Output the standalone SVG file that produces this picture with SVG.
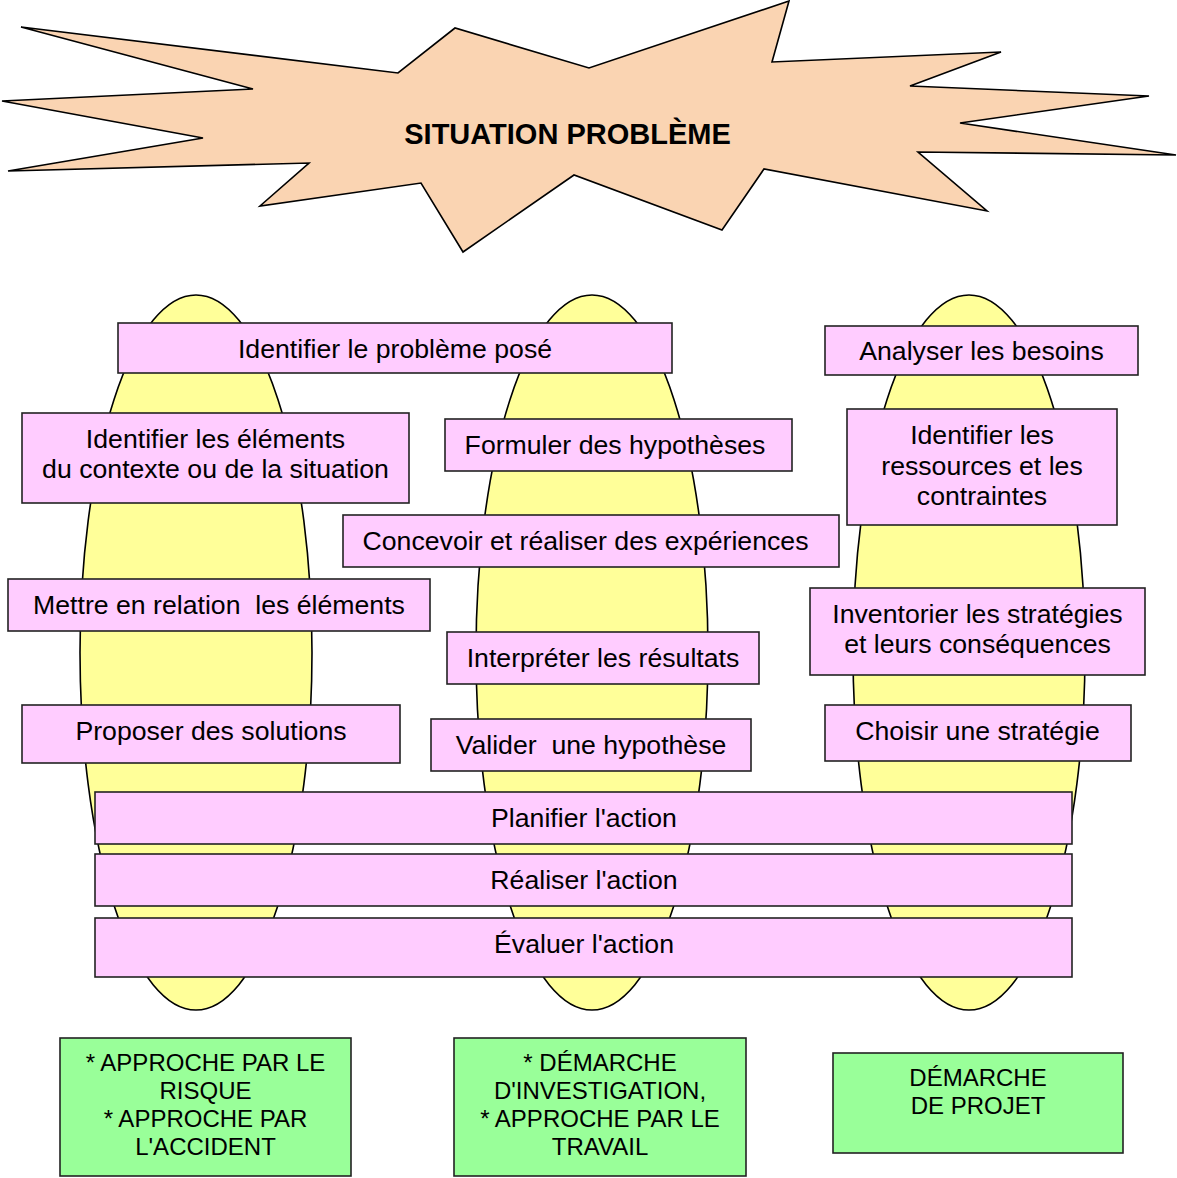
<svg xmlns="http://www.w3.org/2000/svg" width="1177" height="1178" viewBox="0 0 1177 1178">
<style>
.star{fill:#FAD4B2;stroke:#000;stroke-width:1.6;stroke-linejoin:miter}
.ell{fill:#FFFF99;stroke:#000;stroke-width:1.6}
.pk{fill:#FFCCFF;stroke:#222;stroke-width:1.6}
.gr{fill:#99FF99;stroke:#222;stroke-width:1.6}
text{font-family:"Liberation Sans",Arial,sans-serif;fill:#000;text-anchor:middle}
.t{font-size:26.67px;white-space:pre}
.g{font-size:24px}
.title{font-size:29px;font-weight:bold}
</style>
<rect width="1177" height="1178" fill="#fff"/>
<g id="situation">
<polygon class="star" points="21,27 398,73 455,28 589,68 789,1 772,62 1001,52 910,86 1149,96 960,123 1176,155 918,152 987,211 764,169 722,230 574,175 463,252 421,183 260,206 309,163 8,171 203,138 2,101 253,89"/>
<text class="title" x="567.5" y="144">SITUATION PROBLÈME</text>
</g>
<g id="columns">
<ellipse class="ell" cx="196" cy="652.5" rx="116" ry="357.5"/>
<ellipse class="ell" cx="592" cy="652.5" rx="116" ry="357.5"/>
<ellipse class="ell" cx="969" cy="652.5" rx="116" ry="357.5"/>
</g>
<g id="connectors"/>
<g id="n-identifier-probleme"><rect class="pk" x="118" y="323" width="554" height="50"/><text class="t" x="395" y="357.5">Identifier le problème posé</text></g>
<g id="n-analyser"><rect class="pk" x="825" y="326" width="313" height="49"/><text class="t" x="981.5" y="360">Analyser les besoins</text></g>
<g id="n-identifier-elements"><rect class="pk" x="22" y="413" width="387" height="90"/><text class="t" x="215.5" y="448">Identifier les éléments</text><text class="t" x="215.5" y="478">du contexte ou de la situation</text></g>
<g id="n-formuler"><rect class="pk" x="445" y="419" width="347" height="52"/><text class="t" x="615" y="453.5">Formuler des hypothèses</text></g>
<g id="n-ressources"><rect class="pk" x="847" y="409" width="270" height="116"/><text class="t" x="982" y="444">Identifier les</text><text class="t" x="982" y="474.5">ressources et les</text><text class="t" x="982" y="505">contraintes</text></g>
<g id="n-concevoir"><rect class="pk" x="343" y="515" width="496" height="52"/><text class="t" x="585.5" y="549.5">Concevoir et réaliser des expériences</text></g>
<g id="n-mettre"><rect class="pk" x="8" y="579" width="422" height="52"/><text class="t" x="219" y="613.5">Mettre en relation  les éléments</text></g>
<g id="n-inventorier"><rect class="pk" x="810" y="588" width="335" height="87"/><text class="t" x="977.5" y="622.5">Inventorier les stratégies</text><text class="t" x="977.5" y="653">et leurs conséquences</text></g>
<g id="n-interpreter"><rect class="pk" x="447" y="632" width="312" height="52"/><text class="t" x="603" y="666.5">Interpréter les résultats</text></g>
<g id="n-proposer"><rect class="pk" x="22" y="705" width="378" height="58"/><text class="t" x="211" y="740">Proposer des solutions</text></g>
<g id="n-valider"><rect class="pk" x="431" y="719" width="320" height="52"/><text class="t" x="591" y="754">Valider  une hypothèse</text></g>
<g id="n-choisir"><rect class="pk" x="825" y="705" width="306" height="56"/><text class="t" x="977.5" y="740">Choisir une stratégie</text></g>
<g id="n-planifier"><rect class="pk" x="95" y="792" width="977" height="52"/><text class="t" x="584" y="827">Planifier l'action</text></g>
<g id="n-realiser"><rect class="pk" x="95" y="854" width="977" height="52"/><text class="t" x="584" y="889">Réaliser l'action</text></g>
<g id="n-evaluer"><rect class="pk" x="95" y="918" width="977" height="59"/><text class="t" x="584" y="953">Évaluer l'action</text></g>
<g id="g-risque"><rect class="gr" x="60" y="1038" width="291" height="138"/><text class="g" x="205.5" y="1071">* APPROCHE PAR LE</text><text class="g" x="205.5" y="1099">RISQUE</text><text class="g" x="205.5" y="1127">* APPROCHE PAR</text><text class="g" x="205.5" y="1155">L'ACCIDENT</text></g>
<g id="g-investigation"><rect class="gr" x="454" y="1038" width="292" height="138"/><text class="g" x="600" y="1071">* DÉMARCHE</text><text class="g" x="600" y="1099">D'INVESTIGATION,</text><text class="g" x="600" y="1127">* APPROCHE PAR LE</text><text class="g" x="600" y="1155">TRAVAIL</text></g>
<g id="g-projet"><rect class="gr" x="833" y="1053" width="290" height="100"/><text class="g" x="978" y="1086">DÉMARCHE</text><text class="g" x="978" y="1114">DE PROJET</text></g>
</svg>
